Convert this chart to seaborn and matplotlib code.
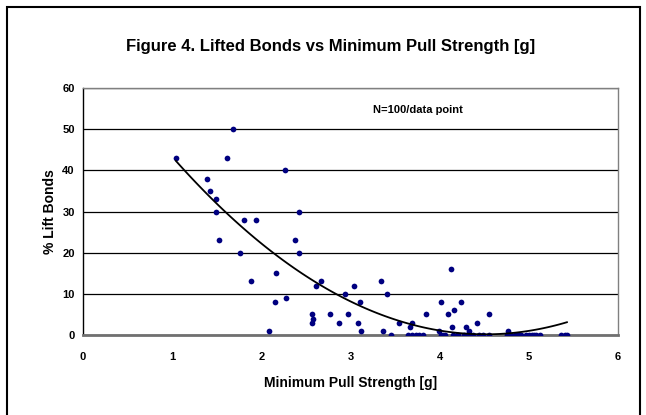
import numpy as np
import pandas as pd
import matplotlib
matplotlib.use("Agg")
import matplotlib.pyplot as plt
from matplotlib.patches import Rectangle
import seaborn as sns

# ---- data ----
pull_strength = [1.04, 1.39, 1.42, 1.49, 1.49, 1.53, 1.61, 1.68, 1.76, 1.81,
                 1.88, 1.94, 2.09, 2.15, 2.16, 2.27, 2.28, 2.38, 2.42, 2.42,
                 2.57, 2.58, 2.57, 2.61, 2.67, 2.77, 2.87, 2.94, 2.97, 3.04,
                 3.08, 3.11, 3.12, 3.34, 3.37, 3.41, 3.45, 3.54, 3.64, 3.67,
                 3.69, 3.69, 3.73, 3.77, 3.81, 3.85, 3.99, 4.02, 4.02, 4.04,
                 4.06, 4.09, 4.13, 4.14, 4.15, 4.16, 4.19, 4.21, 4.24, 4.27,
                 4.29, 4.31, 4.33, 4.34, 4.37, 4.42, 4.44, 4.49, 4.55, 4.55,
                 4.76, 4.77, 4.80, 4.85, 4.88, 4.91, 4.97, 5.00, 5.03, 5.06,
                 5.08, 5.12, 5.36, 5.40, 5.43]
lift_pct = [43, 38, 35, 33, 30, 23, 43, 50, 20, 28,
            13, 28, 1, 8, 15, 40, 9, 23, 30, 20,
            5, 4, 3, 12, 13, 5, 3, 10, 5, 12,
            3, 8, 1, 13, 1, 10, 0, 3, 0, 2,
            3, 0, 0, 0, 0, 5, 1, 8, 0, 0,
            0, 5, 16, 2, 0, 6, 0, 0, 8, 0,
            2, 0, 1, 0, 0, 3, 0, 0, 5, 0,
            0, 1, 0, 0, 0, 0, 0, 0, 0, 0,
            0, 0, 0, 0, 0]
x_ticks = [0, 1, 2, 3, 4, 5, 6]
y_ticks = [0, 10, 20, 30, 40, 50, 60]
title = "Figure 4. Lifted Bonds vs Minimum Pull Strength [g]"
x_label = "Minimum Pull Strength [g]"
y_label = "% Lift Bonds"
note = "N=100/data point"

df = pd.DataFrame({"x": pull_strength, "y": lift_pct})

sns.set_style("white")
plt.rcParams["font.family"] = ["Liberation Sans Narrow", "Liberation Sans", "DejaVu Sans"]
plt.rcParams["text.color"] = "black"
plt.rcParams["axes.labelcolor"] = "black"
plt.rcParams["xtick.color"] = "black"
plt.rcParams["ytick.color"] = "black"

W, H = 646, 415
fig = plt.figure(figsize=(W / 100, H / 100), dpi=100)
fig.patch.set_facecolor("white")
ax = fig.add_axes([83 / W, 1 - 335 / H, (618 - 83) / W, (335 - 88) / H])

sns.regplot(data=df, x="x", y="y", order=2, ci=None, ax=ax,
            scatter_kws=dict(marker="D", s=17, color="#000080", alpha=1,
                             linewidths=0, zorder=3),
            line_kws=dict(color="black", lw=1.3, zorder=4))

ax.set_xlim(0, 6)
ax.set_ylim(0, 60)
ax.set_xticks(x_ticks)
ax.set_yticks(y_ticks)
ax.set_xticklabels([str(t) for t in x_ticks], fontweight="bold", fontsize=8)
ax.set_yticklabels([str(t) for t in y_ticks], fontweight="bold", fontsize=8)
ax.tick_params(axis="both", direction="out", length=4, width=1, color="black")
ax.tick_params(axis="y", pad=2)
ax.tick_params(axis="x", pad=8)

ax.set_axisbelow(True)
ax.yaxis.grid(True, color="black", lw=0.9)
ax.xaxis.grid(False)

for side in ["top", "right"]:
    ax.spines[side].set_visible(True)
    ax.spines[side].set_color("#808080")
    ax.spines[side].set_linewidth(1.0)
ax.spines["left"].set_color("black")
ax.spines["left"].set_linewidth(1.0)
ax.spines["bottom"].set_color("#707070")
ax.spines["bottom"].set_linewidth(2.0)

ax.set_xlabel(x_label, fontweight="bold", fontsize=10, labelpad=10)
ax.set_ylabel(y_label, fontweight="bold", fontsize=10, labelpad=4)

ax.text(3.25, 54.6, note, fontweight="bold", fontsize=8, ha="left", va="center")

fig.text(331 / W, 1 - 47 / H, title, fontweight="bold", fontsize=12,
         ha="center", va="center")

fig.patches.append(Rectangle((7 / W, -0.05), (640 - 7) / W, 1.05 - 7 / H,
                             transform=fig.transFigure, fill=False,
                             edgecolor="black", lw=1.5))

fig.savefig("out.png", dpi=100, facecolor="white")
